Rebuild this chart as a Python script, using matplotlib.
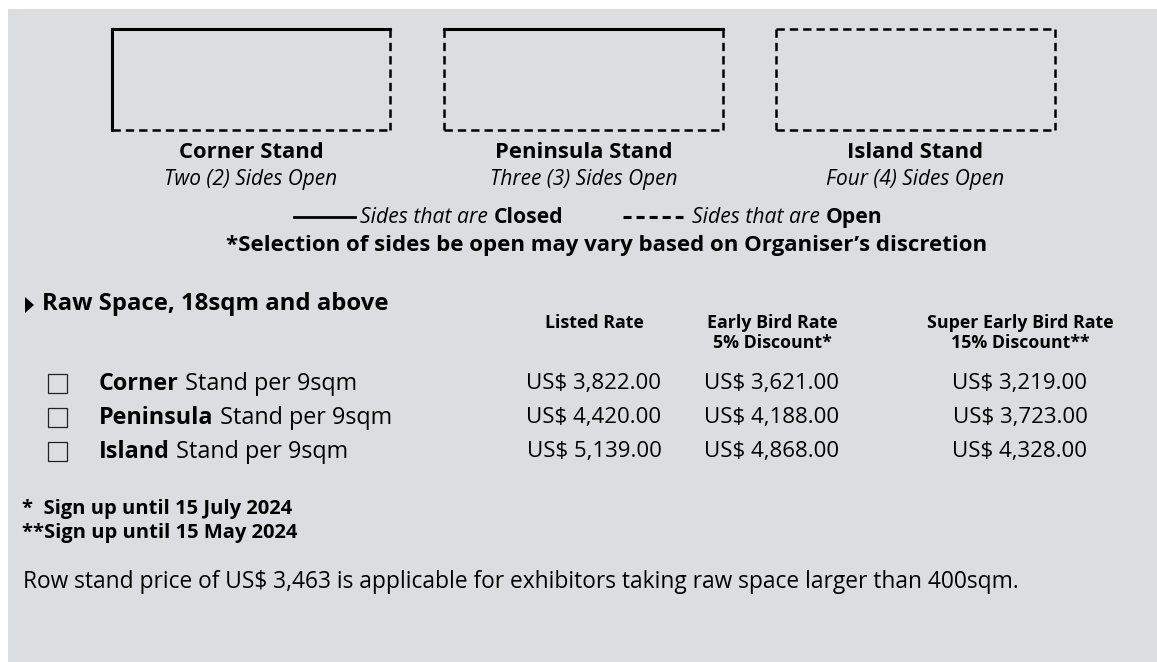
import matplotlib.pyplot as plt
from matplotlib.patches import Rectangle, Polygon

plt.rcParams['font.family'] = ['Open Sans', 'DejaVu Sans']
plt.rcParams['lines.scale_dashes'] = False

# stand diagrams
stand_names = ["Corner Stand", "Peninsula Stand", "Island Stand"]
stand_sides = ["Two (2) Sides Open", "Three (3) Sides Open", "Four (4) Sides Open"]
closed_sides = [["top", "left"], ["top"], []]

# price table
section_title = "Raw Space, 18sqm and above"
rate_headers = ["Listed Rate", "Early Bird Rate\n5% Discount*", "Super Early Bird Rate\n15% Discount**"]
row_types = ["Corner", "Peninsula", "Island"]
listed_rate = [3822, 4420, 5139]
early_bird_rate = [3621, 4188, 4868]
super_early_rate = [3219, 3723, 4328]

footnotes = ["*  Sign up until 15 July 2024", "**Sign up until 15 May 2024"]
note = "Row stand price of US$ 3,463 is applicable for exhibitors taking raw space larger than 400sqm."
disclaimer = "*Selection of sides be open may vary based on Organiser\u2019s discretion"

W, H = 1157, 662
fig = plt.figure(figsize=(W / 100, H / 100), dpi=100)
ax = fig.add_axes([0, 0, 1, 1])
ax.set_xlim(0, W)
ax.set_ylim(H, 0)
ax.axis('off')
ax.add_patch(Rectangle((8, 9), W - 8, H - 9, facecolor='#dcdde0', edgecolor='none'))
renderer = fig.canvas.get_renderer()


def rich(x, y, parts, size):
    # pieces of text in different weights/styles on one baseline
    for s, props in parts:
        t = ax.text(x, y, s, ha='left', va='baseline', fontsize=size, **props)
        bb = t.get_window_extent(renderer)
        x = ax.transData.inverted().transform((bb.x1, bb.y0))[0]


dash = (6, 3.6)
box_x = [(112, 390), (444, 723), (776, 1055)]
top, bottom = 29, 130
for i, (x0, x1) in enumerate(box_x):
    sides = {"top": ([x0, x1], [top, top]), "bottom": ([x0, x1], [bottom, bottom]),
             "left": ([x0, x0], [top, bottom]), "right": ([x1, x1], [top, bottom])}
    for s, (xs, ys) in sides.items():
        if s in closed_sides[i]:
            ax.plot(xs, ys, color='black', lw=2.2, solid_capstyle='projecting')
        else:
            ax.plot(xs, ys, color='black', lw=1.8, dashes=dash)
    cx = (x0 + x1) / 2
    ax.text(cx, 152, stand_names[i], ha='center', va='center', fontsize=15.8, fontweight='bold')
    ax.text(cx, 179, stand_sides[i], ha='center', va='center', fontsize=15, fontstyle='italic')

# legend of sides
ax.plot([294, 355], [217, 217], color='black', lw=2)
rich(360, 223, [("Sides that are ", dict(fontstyle='italic')), ("Closed", dict(fontweight='bold'))], 15.2)
ax.plot([623, 683], [217, 217], color='black', lw=2.2, dashes=(5.8, 3.6))
rich(692, 223, [("Sides that are ", dict(fontstyle='italic')), ("Open", dict(fontweight='bold'))], 15.2)
ax.text(607, 245, disclaimer, ha='center', va='center', fontsize=16, fontweight='bold')

# section title
ax.add_patch(Polygon([(25, 297), (34, 305), (25, 313)], closed=True, facecolor='black'))
ax.text(42, 304, section_title, ha='left', va='center', fontsize=17.2, fontweight='bold')

col_x = [594, 772, 1020]
for cx, h in zip(col_x, rate_headers):
    ax.text(cx, 314, h, ha='center', va='top', fontsize=12.8, fontweight='bold',
            multialignment='center', linespacing=1.15)

row_y = [383, 417, 451]
for y, name, a, b, c in zip(row_y, row_types, listed_rate, early_bird_rate, super_early_rate):
    ax.add_patch(Rectangle((47.5, y - 9.5), 19, 19, facecolor='none', edgecolor='#222222', lw=0.9))
    rich(99, y + 7, [(name, dict(fontweight='bold')), (" Stand per 9sqm", {})], 16.8)
    for cx, v in zip(col_x, [a, b, c]):
        ax.text(cx, y, f"US$ {v:,.2f}", ha='center', va='center', fontsize=16)

for y, fn in zip([509, 533], footnotes):
    ax.text(22, y, fn, ha='left', va='center', fontsize=14.5, fontweight='bold')

ax.text(23, 582, note, ha='left', va='center', fontsize=16.4)

fig.savefig('out.png', dpi=100)
